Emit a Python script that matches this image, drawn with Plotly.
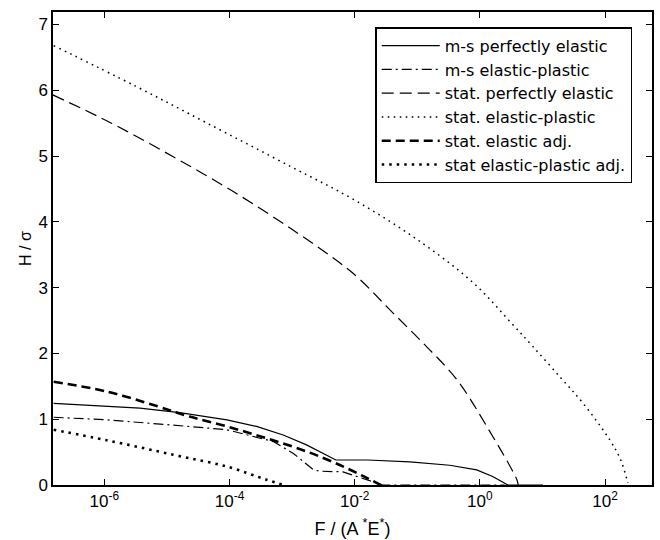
import plotly.graph_objects as go

# ---- data (F in units of A*E*, H/sigma) ----
ms_pe_F = [1.55e-7, 3.7e-6, 1.6e-5, 9.1e-5, 2.7e-4, 7.2e-4, 1.7e-3, 4.6e-3, 5.0e-3, 1.6e-2, 7.6e-2, 0.33, 0.89, 1.6, 2.5, 2.8, 10.2]
ms_pe_H = [1.24, 1.17, 1.10, 0.99, 0.89, 0.76, 0.61, 0.39, 0.38, 0.38, 0.35, 0.30, 0.23, 0.13, 0.02, 0.0, 0.0]

ms_ep_F = [1.55e-7, 1.1e-6, 1.26e-5, 9.1e-5, 5.0e-4, 1.05e-3, 2.2e-3, 2.8e-3, 6.5e-3, 1.4e-2, 2.8e-2, 2.5]
ms_ep_H = [1.03, 0.99, 0.91, 0.84, 0.66, 0.48, 0.23, 0.21, 0.20, 0.10, 0.0, 0.0]

st_pe_F = [1.5e-7, 1.3e-6, 1.26e-5, 1.15e-4, 1.02e-3, 5.9e-3, 1.23e-2, 3.5e-2, 0.126, 0.43, 1.29, 3.9, 4.1]
st_pe_H = [5.93, 5.50, 4.99, 4.46, 3.88, 3.37, 3.12, 2.68, 2.15, 1.60, 0.89, 0.08, 0.0]

st_ep_F = [1.55e-7, 3.2e-6, 4.4e-5, 1.0e-3, 1.0e-2, 0.1, 0.79, 3.2, 7.1, 20.0, 44.7, 120.0, 178.0, 224.0, 232.0]
st_ep_H = [6.68, 6.06, 5.50, 4.83, 4.33, 3.73, 3.07, 2.46, 2.10, 1.62, 1.24, 0.68, 0.38, 0.08, 0.03]

st_ea_F = [1.55e-7, 1.1e-6, 6.9e-6, 2.3e-5, 9.1e-5, 3.9e-4, 1.7e-3, 5.9e-3, 1.4e-2, 2.6e-2]
st_ea_H = [1.57, 1.42, 1.20, 1.04, 0.89, 0.71, 0.51, 0.30, 0.13, 0.0]

st_epa_F = [1.55e-7, 1.1e-6, 1.26e-5, 9.1e-5, 3.9e-4, 7.2e-4]
st_epa_H = [0.84, 0.68, 0.46, 0.28, 0.08, 0.0]

x_tickvals = [1e-6, 1e-4, 1e-2, 1, 1e2]
x_ticktext = ["10<sup>-6</sup>", "10<sup>-4</sup>", "10<sup>-2</sup>", "10<sup>0</sup>", "10<sup>2</sup>"]
y_tickvals = [0, 1, 2, 3, 4, 5, 6, 7]

FONT = "Liberation Sans, Arial, Helvetica, sans-serif"
LEGFONT = "DejaVu Sans, Liberation Sans, Arial, sans-serif"

series = [
    ("m-s perfectly elastic", ms_pe_F, ms_pe_H, "solid", 1.2, "linear"),
    ("m-s elastic-plastic", ms_ep_F, ms_ep_H, "10px,4px,2px,4px", 1.2, "linear"),
    ("stat. perfectly elastic", st_pe_F, st_pe_H, "12px,6px", 1.2, "spline"),
    ("stat. elastic-plastic", st_ep_F, st_ep_H, "1.6px,4.4px", 1.5, "spline"),
    ("stat. elastic adj.", st_ea_F, st_ea_H, "9px,5px", 2.6, "spline"),
    ("stat elastic-plastic adj.", st_epa_F, st_epa_H, "2.5px,5px", 2.6, "spline"),
]

fig = go.Figure()
for name, xs, ys, dash, w, shape in series:
    line = dict(color="black", width=w, dash=dash, shape=shape)
    if shape == "spline":
        line["smoothing"] = 1.0
    fig.add_trace(go.Scatter(x=xs, y=ys, mode="lines", name=name, line=line))

fig.update_layout(
    width=660, height=540,
    margin=dict(l=53, r=8, t=12, b=55),
    paper_bgcolor="white", plot_bgcolor="white",
    font=dict(family=FONT, size=16, color="black"),
    legend=dict(
        x=0.967, y=0.968, xanchor="right", yanchor="top",
        bordercolor="black", borderwidth=1.5, bgcolor="white",
        font=dict(family=LEGFONT, size=16, color="black"),
        tracegroupgap=0, itemwidth=58,
    ),
)
fig.update_xaxes(
    type="log", range=[-6.82, 2.75], automargin=False,
    tickvals=x_tickvals, ticktext=x_ticktext,
    ticks="inside", ticklen=6, tickcolor="black", tickwidth=1.2,
    showline=True, linecolor="black", linewidth=1.5, mirror="ticks",
    showgrid=False, zeroline=False,
    tickfont=dict(family=FONT, size=17),
    title=dict(text="F / (A <sup>*</sup>E<sup>*</sup>)", font=dict(family=FONT, size=18), standoff=12),
)
fig.update_yaxes(
    range=[0, 7.19], automargin=False,
    tickvals=y_tickvals,
    ticks="inside", ticklen=6, tickcolor="black", tickwidth=1.2,
    showline=True, linecolor="black", linewidth=1.5, mirror="ticks",
    showgrid=False, zeroline=False,
    tickfont=dict(family=FONT, size=17),
    title=dict(text="H / σ", font=dict(family=FONT, size=16), standoff=3),
)

fig.write_html("out.html")
